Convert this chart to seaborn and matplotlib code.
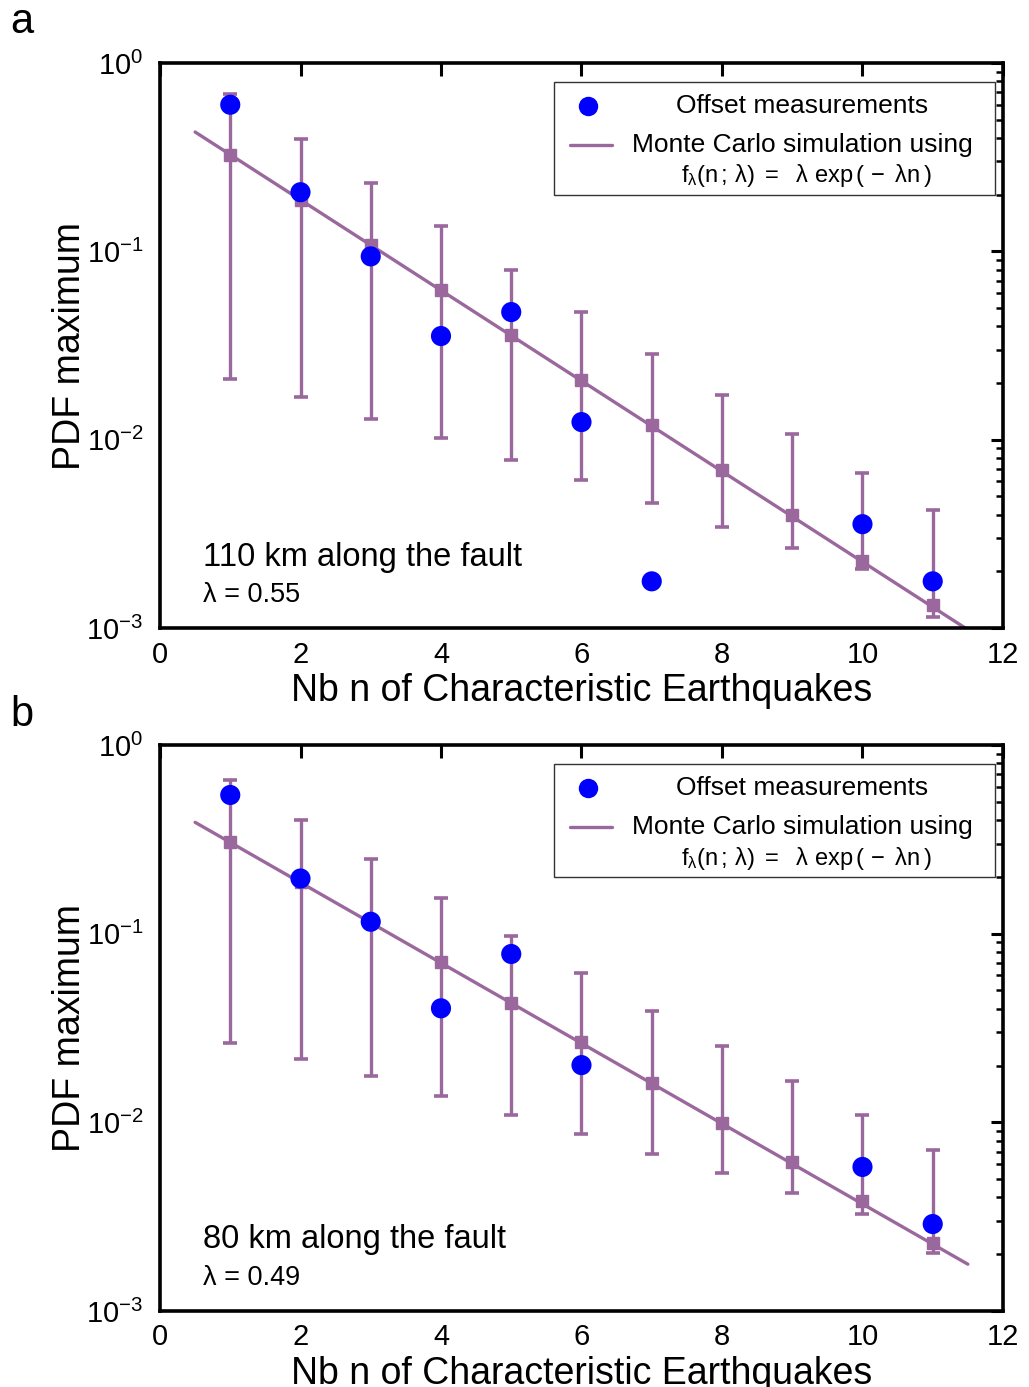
import numpy as np
import pandas as pd
import matplotlib
matplotlib.use("Agg")
import matplotlib.pyplot as plt
import seaborn as sns
from matplotlib.patches import Rectangle
from matplotlib.ticker import LogLocator, FixedLocator, NullFormatter

# ---------------- data ----------------
n_sim = [1, 2, 3, 4, 5, 6, 7, 8, 9, 10, 11]

# panel a : 110 km along the fault, lambda = 0.55
a_sim = [0.325, 0.187, 0.108, 0.0623, 0.036, 0.0207, 0.012, 0.0069, 0.0040, 0.00227, 0.00132]
a_hi = [0.684, 0.395, 0.231, 0.136, 0.080, 0.0476, 0.0286, 0.0173, 0.0107, 0.00665, 0.00423]
a_lo = [0.0211, 0.0168, 0.0129, 0.0102, 0.0078, 0.0061, 0.0046, 0.00344, 0.00266, 0.00206, 0.00114]
a_obs_n = [1, 2, 3, 4, 5, 6, 7, 10, 11]
a_obs = [0.60, 0.206, 0.094, 0.0355, 0.0476, 0.0124, 0.00177, 0.00356, 0.00177]
a_fit_n = [0.5, 11.5]
a_fit = [0.43, 0.00098]

# panel b : 80 km along the fault, lambda = 0.49
b_sim = [0.307, 0.188, 0.115, 0.0710, 0.0430, 0.0267, 0.0161, 0.00994, 0.00613, 0.00381, 0.0023]
b_hi = [0.652, 0.399, 0.249, 0.155, 0.0975, 0.0618, 0.0387, 0.0253, 0.0166, 0.0109, 0.00715]
b_lo = [0.0264, 0.0216, 0.0175, 0.0138, 0.0110, 0.0087, 0.00676, 0.00536, 0.00423, 0.00327, 0.00203]
b_obs_n = [1, 2, 3, 4, 5, 6, 10, 11]
b_obs = [0.543, 0.196, 0.1156, 0.0402, 0.078, 0.0201, 0.0058, 0.00289]
b_fit_n = [0.5, 11.5]
b_fit = [0.389, 0.00177]

panels = [
    dict(letter="a", sim=a_sim, hi=a_hi, lo=a_lo, obs_n=a_obs_n, obs=a_obs,
         fit_n=a_fit_n, fit=a_fit, where="110 km along the fault", lam="λ = 0.55"),
    dict(letter="b", sim=b_sim, hi=b_hi, lo=b_lo, obs_n=b_obs_n, obs=b_obs,
         fit_n=b_fit_n, fit=b_fit, where="80 km along the fault", lam="λ = 0.49"),
]

x_ticks = [0, 2, 4, 6, 8, 10, 12]
y_ticks = [1e-3, 1e-2, 1e-1, 1e0]
y_ticklabels = [r"$10^{-3}$", r"$10^{-2}$", r"$10^{-1}$", r"$10^{0}$"]

# ---------------- style ----------------
sns.set_theme(style="white")
plt.rcParams["font.family"] = ["Liberation Sans", "DejaVu Sans"]
plt.rcParams["mathtext.fontset"] = "custom"
plt.rcParams["mathtext.rm"] = "Liberation Sans"
plt.rcParams["mathtext.it"] = "Liberation Sans:italic"
plt.rcParams["mathtext.default"] = "regular"
plt.rcParams["text.color"] = "black"
plt.rcParams["axes.labelcolor"] = "black"
plt.rcParams["xtick.color"] = "black"
plt.rcParams["ytick.color"] = "black"

PURPLE = "#9a689d"
BLUE = "#0000ff"

fig = plt.figure(figsize=(10.29, 13.87), dpi=100)
fig.patch.set_facecolor("white")
rects = [[0.1555, 0.5472, 0.8192, 0.4074], [0.1555, 0.0548, 0.8192, 0.4081]]

for p, r in zip(panels, rects):
    ax = fig.add_axes(r)
    ax.set_yscale("log")

    fit_df = pd.DataFrame({"n": p["fit_n"], "v": p["fit"]})
    sns.lineplot(data=fit_df, x="n", y="v", ax=ax, color=PURPLE, lw=2.4,
                 zorder=2, legend=False)

    sim = np.array(p["sim"])
    yerr = np.vstack([sim - np.array(p["lo"]), np.array(p["hi"]) - sim])
    ax.errorbar(n_sim, sim, yerr=yerr, fmt="s", color=PURPLE, ms=8.5,
                elinewidth=2.4, capsize=5, capthick=2.6, zorder=3)

    obs_df = pd.DataFrame({"n": p["obs_n"], "v": p["obs"]})
    sns.scatterplot(data=obs_df, x="n", y="v", ax=ax, color=BLUE, s=210,
                    edgecolor="none", zorder=4, legend=False)

    ax.set_xlim(0, 12)
    ax.set_ylim(1e-3, 1)
    ax.xaxis.set_major_locator(FixedLocator(x_ticks))
    ax.set_xticklabels([str(t) for t in x_ticks])
    ax.yaxis.set_major_locator(FixedLocator(y_ticks))
    ax.set_yticklabels(y_ticklabels)
    ax.yaxis.set_minor_locator(LogLocator(base=10, subs=np.arange(2, 10)))
    ax.yaxis.set_minor_formatter(NullFormatter())
    ax.tick_params(which="both", direction="in", top=True, right=True,
                   colors="black", labelsize=21)
    ax.tick_params(axis="x", which="major", length=9, width=2.2, pad=9)
    ax.tick_params(axis="y", which="major", length=9, width=2.2, pad=12)
    ax.tick_params(which="minor", length=5, width=1.8)
    for s in ax.spines.values():
        s.set_linewidth(2.6)
        s.set_color("black")
        s.set_visible(True)

    ax.set_xlabel("Nb n of Characteristic Earthquakes", fontsize=27, labelpad=3)
    ax.set_ylabel("PDF maximum", fontsize=27)
    ax.yaxis.set_label_coords(-0.085, 0.5)

    # legend box (MATLAB style)
    ax.add_patch(Rectangle((0.4674, 0.7664), 0.5231, 0.2000, transform=ax.transAxes,
                           facecolor="white", edgecolor="#333333", lw=1.0, zorder=5))
    ax.plot([0.5077], [0.9239], "o", color=BLUE, ms=14, mec="none",
            transform=ax.transAxes, zorder=6, clip_on=False)
    ax.plot([0.4864, 0.5362], [0.8549, 0.8549], color=PURPLE, lw=2.4,
            transform=ax.transAxes, zorder=6, clip_on=False)
    ax.text(0.7622, 0.9239, "Offset measurements", transform=ax.transAxes,
            ha="center", va="center", fontsize=19, zorder=6)
    ax.text(0.7622, 0.8549, "Monte Carlo simulation using", transform=ax.transAxes,
            ha="center", va="center", fontsize=19, zorder=6)
    ax.text(0.767, 0.800,
            r"$\mathrm{f_{\lambda}(n\,;\,\lambda)\ =\ \ \lambda\ exp\,(\,-\ \lambda n\,)}$",
            transform=ax.transAxes, ha="center", va="center", fontsize=17, zorder=6)

    ax.text(0.051, 0.1257, p["where"], transform=ax.transAxes, ha="left",
            va="center", fontsize=23.5)
    ax.text(0.051, 0.058, p["lam"], transform=ax.transAxes, ha="left",
            va="center", fontsize=19.5)

fig.text(22 / 1029, 1 - 22 / 1387, "a", fontsize=30, ha="center", va="center")
fig.text(22 / 1029, 1 - 715 / 1387, "b", fontsize=30, ha="center", va="center")

fig.savefig("out.png", dpi=100, facecolor="white")
